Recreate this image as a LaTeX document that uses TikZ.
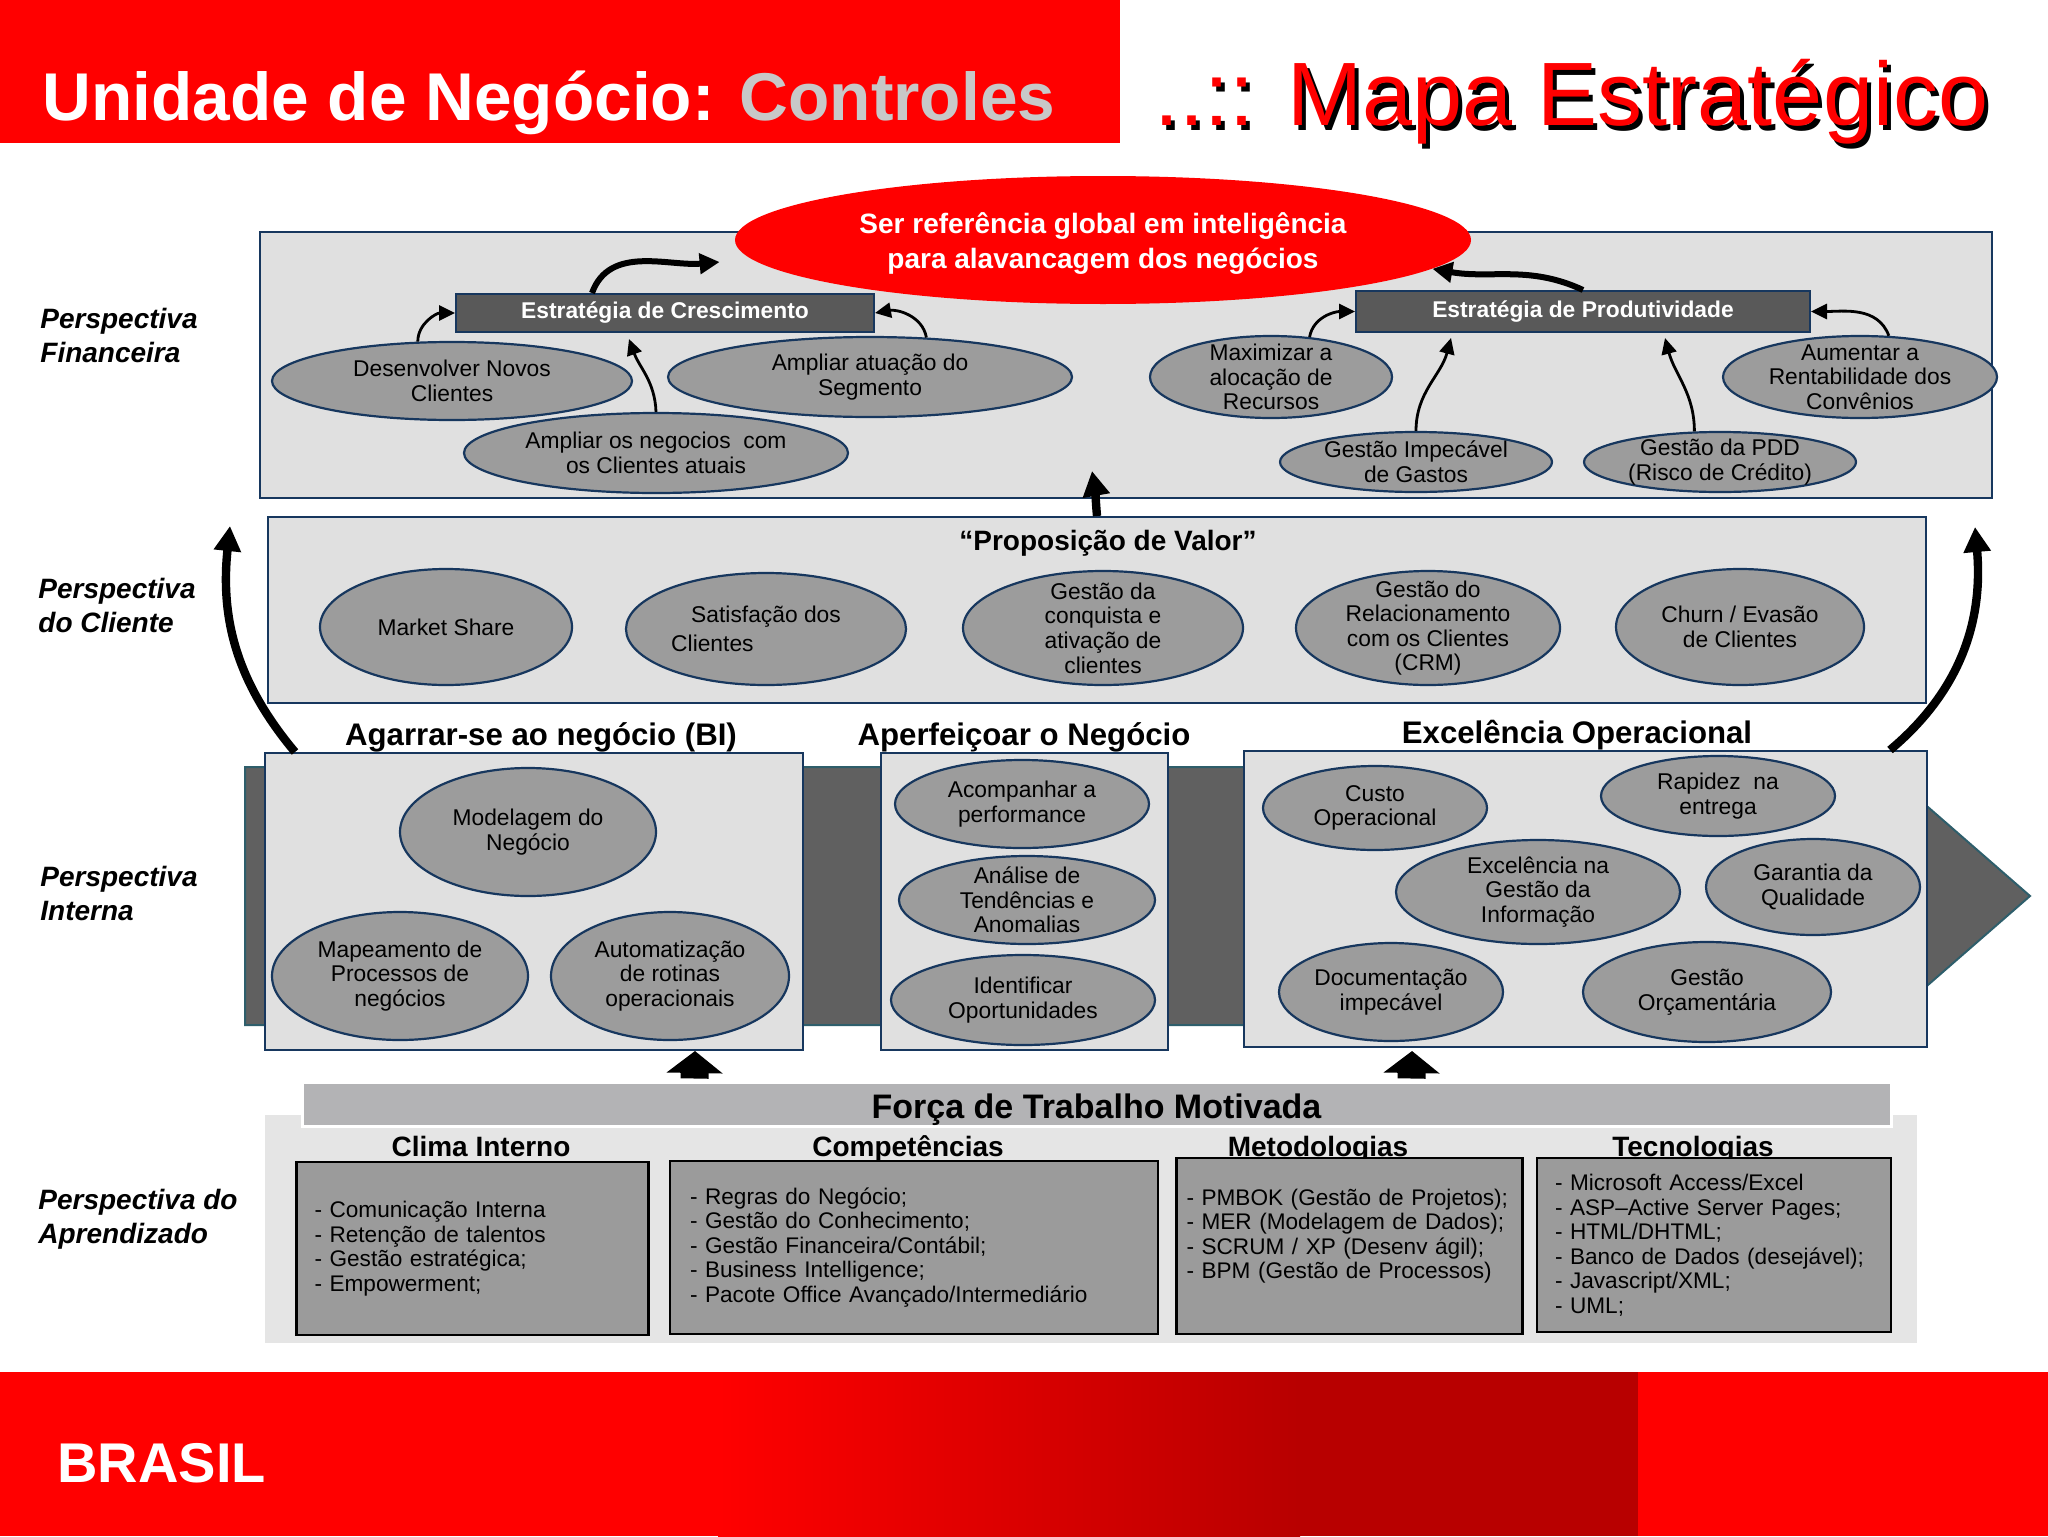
\documentclass[tikz,border=0pt]{standalone}
\usepackage{fontspec}
\setmainfont{Liberation Sans}
\usetikzlibrary{arrows.meta,positioning,calc,shapes.geometric}
\definecolor{BrandRed}{HTML}{FF0000}
\definecolor{DeepRed}{HTML}{B80000}
\definecolor{Soft}{HTML}{C8C8C8}
\definecolor{Navy}{HTML}{17375E}
\definecolor{Pane}{HTML}{E0E0E0}
\definecolor{Oval}{HTML}{9C9C9C}
\definecolor{Band}{HTML}{606060}
\definecolor{BandLine}{HTML}{2E5E6B}
\definecolor{Slate}{HTML}{595959}
\definecolor{Panel}{HTML}{E5E5E5}
\definecolor{Strip}{HTML}{B3B3B5}
\definecolor{ListGray}{HTML}{9B9B9B}
\newcommand{\ovalfont}{\fontsize{11.4pt}{12.3pt}\selectfont}
\newcommand{\listfont}{\fontsize{11.3pt}{12.25pt}\selectfont}
\newcommand{\headfont}{\fontsize{15.6pt}{18pt}\selectfont\bfseries}
\newcommand{\colfont}{\fontsize{14pt}{17pt}\selectfont\bfseries}
\tikzset{pane/.style={draw=Navy,fill=Pane,line width=1pt,inner sep=0pt},
  oval/.style 2 args={ellipse,draw=Navy,fill=Oval,line width=1.1pt,minimum width=#1pt,
    minimum height=#2pt,inner xsep=0pt,inner ysep=-12pt,align=center,font=\ovalfont},
  strategy/.style={draw=Navy,fill=Slate,line width=1pt,text=white,
    font=\ovalfont\bfseries,inner sep=0pt},
  link/.style={-{Triangle[length=8pt,width=7.5pt]},line width=1.4pt},
  boldlink/.style={-{Triangle[length=10pt,width=10pt]},line width=3pt},
  lift/.style={-{Triangle[length=12.5pt,width=13pt]},line width=4.2pt},
  blockarrow/.style={-{Triangle[length=11pt,width=27.5pt]},line width=14pt},
  persp/.style={anchor=west,align=left,inner sep=0pt,
    font=\fontsize{14pt}{17pt}\selectfont\bfseries\itshape},
  listbox/.style={draw=black,fill=ListGray,line width=1.2pt,align=left,
    font=\listfont,inner xsep=9pt,inner ysep=0pt}}
\begin{document}
\begin{tikzpicture}[x=0.5pt,y=0.5pt]
  \useasboundingbox (0,0) rectangle (2048,-1536);
  \fill[BrandRed] (0,0) rectangle (1120,-143);
  \node[anchor=base west,inner sep=0pt,text=white,font=\fontsize{33.8pt}{40pt}\selectfont\bfseries]
    (title) at (42,-120) {Unidade de Negócio: \textcolor{Soft}{Controles}};
  \node[anchor=base west,inner sep=0pt,font=\fontsize{45pt}{50pt}\selectfont]
    (mapaShadow) at (1158,-130) {..:: Mapa Estratégico};
  \node[anchor=base west,inner sep=0pt,text=BrandRed,font=\fontsize{45pt}{50pt}\selectfont]
    (mapa) at (1154,-126) {..:: Mapa Estratégico};

  \fill[BrandRed] (0,-1372) rectangle (2048,-1536);
  \shade[left color=BrandRed,right color=DeepRed] (718,-1372) rectangle (1300,-1536);
  \fill[DeepRed] (1300,-1372) rectangle (1638,-1536);
  \node[anchor=base west,inner sep=0pt,text=white,font=\fontsize{28pt}{32pt}\selectfont\bfseries]
    (brasil) at (57,-1482) {BRASIL};

  \node[persp] (pfin) at (40,-335) {Perspectiva\\Financeira};
  \node[persp] (pcli) at (38,-605.5) {Perspectiva\\do Cliente};
  \node[persp] (pint) at (40,-893.5) {Perspectiva\\Interna};
  \node[persp] (papr) at (38,-1219) {Perspectiva do\\Aprendizado};

  \node[pane,minimum width=866pt,minimum height=133pt] (fin) at (1126,-365) {};
  \node[ellipse,fill=BrandRed,minimum width=368pt,minimum height=64pt,inner sep=0pt,text=white,
    align=center,text height=28pt,text depth=0pt,font=\fontsize{14pt}{17.5pt}\selectfont\bfseries]
    (goal) at (1103,-240) {Ser referência global em inteligência\\para alavancagem dos negócios};
  \node[strategy,minimum width=209pt,minimum height=19pt] (cresc) at (665,-313) {Estratégia de Crescimento};
  \node[strategy,minimum width=227pt,minimum height=20.5pt] (prod) at (1583,-311.5) {Estratégia de Produtividade};
  \node[oval={180}{39}] (desenvolver) at (452,-381) {Desenvolver Novos\\Clientes};
  \node[oval={202}{40}] (atuacao) at (870,-377) {Ampliar atuação do\\Segmento};
  \node[oval={192}{40}] (negocios) at (656,-453) {Ampliar os negocios~ com\\os Clientes atuais};
  \node[oval={121}{41}] (maximizar) at (1271,-377) {Maximizar a\\alocação de\\Recursos};
  \node[oval={137}{41}] (aumentar) at (1860,-377) {Aumentar a\\Rentabilidade dos\\Convênios};
  \node[oval={136}{30}] (gastos) at (1416,-462) {Gestão Impecável\\de Gastos};
  \node[oval={136}{30}] (pdd) at (1720,-462) {Gestão da PDD\\(Risco de Crédito)};
  \draw[link] (desenvolver.131) to[out=90,in=180] (cresc.west);
  \draw[link] (negocios.north) to[out=92,in=-70] ($(cresc.south)+(-36,-6)$);
  \draw[link] (atuacao.35) to[out=100,in=10] (cresc.east);
  \draw[boldlink] ($(cresc.north)+(-73,0)$) to[out=70,in=185] ($(goal.west)+(-15,-22)$);
  \draw[boldlink] (prod.north) to[out=155,in=-10] (goal.-5);
  \draw[link] (maximizar.46) to[out=80,in=180] (prod.west);
  \draw[link] (gastos.north) to[out=90,in=-105] ($(prod.south)+(-132,-5)$);
  \draw[link] (pdd.130) to[out=90,in=-75] ($(prod.south)+(82,-5)$);
  \draw[link] (aumentar.55) to[out=110,in=0] (prod.east);

  \node[pane,minimum width=829pt,minimum height=93pt] (cli) at (1097,-610) {};
  \node[anchor=base,font=\colfont] (valor) at (1108,-550) {“Proposição de Valor”};
  \node[oval={126}{58}] (market) at (446,-627) {Market Share};
  \node[oval={140}{56},align=left] (satisfacao) at (766,-629)
    {\hspace*{10pt}Satisfação dos\hspace*{10pt}\\[2.5pt]Clientes};
  \node[oval={140}{57}] (conquista) at (1103,-628) {Gestão da\\conquista e\\ativação de\\clientes};
  \node[oval={132}{57}] (crm) at (1428,-628) {Gestão do\\Relacionamento\\com os Clientes\\(CRM)};
  \node[oval={124}{58}] (churn) at (1740,-627) {Churn / Evasão\\de Clientes};
  \draw[lift] (cli.north) to[out=95,in=-80] ($(fin.south)+(-34,28)$);

  \filldraw[fill=Band,draw=BandLine,line width=1pt] (245,-767) -- (1882,-767) -- (2030,-896)
    -- (1882,-1025) -- (245,-1025) -- cycle;
  \node[pane,minimum width=269pt,minimum height=148.5pt] (agarrar) at (534,-901.5) {};
  \node[pane,minimum width=143.5pt,minimum height=148.5pt] (aperf) at (1024.5,-901.5) {};
  \node[pane,minimum width=341.5pt,minimum height=148pt] (excel) at (1585.5,-899) {};
  \node[anchor=base,font=\headfont] (agarrarT) at (541,-745) {Agarrar-se ao negócio (BI)};
  \node[anchor=base,font=\headfont] (aperfT) at (1024,-745) {Aperfeiçoar o Negócio};
  \node[anchor=base,font=\headfont] (excelT) at (1577,-743) {Excelência Operacional};
  \node[oval={128}{64}] (modelagem) at (528,-832) {Modelagem do\\Negócio};
  \node[oval={128}{64}] (mapeamento) at (400,-976) {Mapeamento de\\Processos de\\negócios};
  \node[oval={119}{64}] (automat) at (670,-976) {Automatização\\de rotinas\\operacionais};
  \node[oval={127}{44}] (acompanhar) at (1022,-804) {Acompanhar a\\performance};
  \node[oval={128}{44}] (analise) at (1027,-900) {Análise de\\Tendências e\\Anomalias};
  \node[oval={132}{45}] (identificar) at (1023,-1000) {Identificar\\Oportunidades};
  \node[oval={112}{42}] (custo) at (1375,-808) {Custo\\Operacional};
  \node[oval={117}{40}] (rapidez) at (1718,-796) {Rapidez~ na\\entrega};
  \node[oval={142}{52}] (excinfo) at (1538,-892) {Excelência na\\Gestão da\\Informação};
  \node[oval={107}{48}] (garantia) at (1813,-887) {Garantia da\\Qualidade};
  \node[oval={112}{49}] (documentacao) at (1391,-992) {Documentação\\impecável};
  \node[oval={124}{50}] (orcamento) at (1707,-992) {Gestão\\Orçamentária};
  \coordinate (leftTip) at (230,-526);
  \coordinate (rightTip) at (1975,-527);
  \draw[lift] ($(agarrar.north west)+(31,0)$) to[out=130,in=-96] (leftTip);
  \draw[lift] ($(excel.north east)+(-38,0)$) to[out=40,in=-85] (rightTip);

  \node[fill=Panel,minimum width=826pt,minimum height=114pt,inner sep=0pt] (panel) at (1091,-1229) {};
  \node[fill=Strip,draw=white,line width=1.5pt,minimum width=794.5pt,minimum height=22pt,inner sep=0pt,
    text height=14pt,text depth=0pt,font=\fontsize{17pt}{20pt}\selectfont\bfseries]
    (forca) at (1096.5,-1104) {Força de Trabalho Motivada};
  \node[anchor=base,font=\colfont] (climaT) at (481,-1156) {Clima Interno};
  \node[anchor=base,font=\colfont] (compT) at (908,-1156) {Competências};
  \node[anchor=base,font=\colfont] (metodT) at (1318,-1156) {Metodologias};
  \node[anchor=base,font=\colfont] (tecT) at (1693,-1156) {Tecnologias};
  \node[listbox,text width=158pt,minimum height=86.5pt] (clima) at (472.5,-1248.5)
    {- Comunicação Interna\\- Retenção de talentos\\- Gestão estratégica;\\- Empowerment;};
  \node[listbox,inner xsep=10pt,text width=224pt,minimum height=86.5pt] (comp) at (914,-1247.5)
    {- Regras do Negócio;\\- Gestão do Conhecimento;\\- Gestão Financeira/Contábil;\\- Business Intelligence;\\- Pacote Office Avançado/Intermediário};
  \node[listbox,inner xsep=5pt,text width=163pt,minimum height=88pt] (metod) at (1349.5,-1246)
    {- PMBOK (Gestão de Projetos);\\- MER (Modelagem de Dados);\\- SCRUM / XP (Desenv ágil);\\- BPM (Gestão de Processos)\\\mbox{}};
  \node[listbox,text width=159pt,minimum height=87pt] (tec) at (1714,-1245)
    {- Microsoft Access/Excel\\- ASP–Active Server Pages;\\- HTML/DHTML;\\- Banco de Dados (desejável);\\- Javascript/XML;\\- UML;};
  \draw[blockarrow] ($(forca.north west)+(394,2)$) -- ($(agarrar.south west)+(431,0)$);
  \draw[blockarrow] ($(forca.north west)+(1111,2)$) -- ($(excel.south west)+(169,-3)$);
\end{tikzpicture}
\end{document}
